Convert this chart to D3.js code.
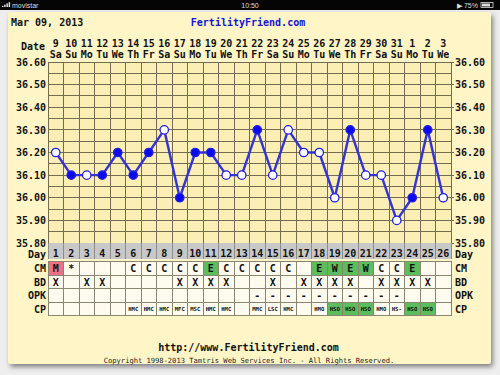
<!DOCTYPE html>
<html><head><meta charset="utf-8">
<script src="https://cdn.jsdelivr.net/npm/d3@7"></script>
<style>
html,body{margin:0;padding:0;background:#efefef;}
svg{display:block;}
</style></head>
<body>
<script>
// ---------- data ----------
const dates = [9,10,11,12,13,14,15,16,17,18,19,20,21,22,23,24,25,26,27,28,29,30,31,1,2,3];
const dows = ["Sa","Su","Mo","Tu","We","Th","Fr","Sa","Su","Mo","Tu","We","Th","Fr","Sa","Su","Mo","Tu","We","Th","Fr","Sa","Su","Mo","Tu","We"];
const cycleDays = d3.range(1,27);
const temps = [36.20,36.10,36.10,36.10,36.20,36.10,36.20,36.30,36.00,36.20,36.20,36.10,36.10,36.30,36.10,36.30,36.20,36.20,36.00,36.30,36.10,36.10,35.90,36.00,36.30,36.00];
const filled = [0,1,0,1,1,1,1,0,1,1,1,0,0,1,0,0,0,0,0,1,0,0,0,1,1,0];
const yTicks = [35.8,35.9,36.0,36.1,36.2,36.3,36.4,36.5,36.6];
const cm = ["M","*","","","","C","C","C","C","C","E","C","C","C","C","C","","E","W","E","W","C","C","E","",""];
const bd = ["X","","X","X","","","","","X","X","X","X","","","X","","X","X","X","X","","X","X","X","X",""];
const opk = ["","","","","","","","","","","","","","-","-","-","-","-","-","-","-","-","-","","",""];
const cp = ["","","","","","HMC","HMC","HMC","MFC","MSC","HMC","HMC","","MMC","LSC","HMC","","HMO","HSO","HSO","HSO","HMO","HS-","HSO","HSO",""];
const rowLabels = ["CM","BD","OPK","CP"];
const title = "Mar 09, 2013";
const site = "FertilityFriend.com";

// ---------- layout ----------
const W = 500, H = 375;
const FONT = "'DejaVu Sans Mono', 'Liberation Mono', monospace";
const PLOT = {l:48, r:451, t:62, b:243};
const svg = d3.select("body").append("svg").attr("width",W).attr("height",H);

const defs = svg.append("defs");
const f = defs.append("filter").attr("id","sh").attr("x","-5%").attr("y","-5%").attr("width","115%").attr("height","115%");
f.append("feDropShadow").attr("dx",2).attr("dy",3).attr("stdDeviation",2.5).attr("flood-color","#000").attr("flood-opacity",0.45);

// outer bg
svg.append("rect").attr("width",W).attr("height",H).attr("fill","#eeeeee");
// status bar
svg.append("rect").attr("width",W).attr("height",10).attr("fill","#050505");
const sb = svg.append("g").attr("font-family","'Liberation Sans', Arial, sans-serif").attr("font-size",7).attr("fill","#ddd");
[0,1,2,3].forEach(i=>sb.append("rect").attr("x",2+i*2.2).attr("y",7-(i+1)*1.2).attr("width",1.5).attr("height",(i+1)*1.2).attr("fill","#ddd"));
sb.append("text").attr("x",12).attr("y",7.5).text("movistar");
sb.append("text").attr("x",250).attr("y",7.5).attr("text-anchor","middle").text("10:50");
sb.append("text").attr("x",478).attr("y",7.5).attr("text-anchor","end").text("\u25B6 75%");
sb.append("rect").attr("x",481).attr("y",2.5).attr("width",12).attr("height",5).attr("fill","none").attr("stroke","#ddd").attr("stroke-width",0.8);
sb.append("rect").attr("x",482).attr("y",3.5).attr("width",8).attr("height",3).attr("fill","#ddd");

// panel
svg.append("rect").attr("x",8).attr("y",12).attr("width",483).attr("height",352).attr("rx",3)
  .attr("fill","#fff5c6").attr("filter","url(#sh)");

// scales
const x = d3.scaleBand().domain(cycleDays).range([PLOT.l,PLOT.r]);
const y = d3.scaleLinear().domain([35.8,36.6]).range([PLOT.b,PLOT.t]);
const bw = x.bandwidth();

// header text
svg.append("text").attr("x",11).attr("y",26).attr("font-family",FONT).attr("font-weight","bold").attr("font-size",10).attr("fill","#111").text(title);
svg.append("text").attr("x",248).attr("y",26).attr("text-anchor","middle").attr("font-family",FONT).attr("font-weight","bold").attr("font-size",10).attr("fill","#1414d2").text(site);

// date rows via axes
const topAxis = svg.append("g").attr("transform","translate(0,47)")
  .call(d3.axisTop(x).tickSize(0).tickPadding(0).tickFormat((d,i)=>dates[i]));
const dowAxis = svg.append("g").attr("transform","translate(0,58)")
  .call(d3.axisTop(x).tickSize(0).tickPadding(0).tickFormat((d,i)=>dows[i]));
[topAxis,dowAxis].forEach(g=>{
  g.select(".domain").remove();
  g.selectAll("text").attr("font-family",FONT).attr("font-weight","bold").attr("font-size",10).attr("fill","#111").attr("dy",0);
});
svg.append("text").attr("x",45).attr("y",50).attr("text-anchor","end").attr("font-family",FONT).attr("font-weight","bold").attr("font-size",10).attr("fill","#111").text("Date");

// plot background and grid
svg.append("rect").attr("x",PLOT.l).attr("y",PLOT.t).attr("width",PLOT.r-PLOT.l).attr("height",PLOT.b-PLOT.t).attr("fill","#fcefb5");
const grid = svg.append("g").attr("stroke","#746c52").attr("stroke-width",1).attr("shape-rendering","crispEdges");
d3.range(0,17).forEach(i=>{
  const v = 35.8 + i*0.05;
  grid.append("line").attr("x1",PLOT.l).attr("x2",PLOT.r).attr("y1",y(v)).attr("y2",y(v));
});
cycleDays.forEach(d=>grid.append("line").attr("x1",x(d)).attr("x2",x(d)).attr("y1",PLOT.t).attr("y2",PLOT.b));
grid.append("line").attr("x1",PLOT.r).attr("x2",PLOT.r).attr("y1",PLOT.t).attr("y2",PLOT.b);
yTicks.forEach(v=>grid.append("line").attr("x1",PLOT.r).attr("x2",PLOT.r+3).attr("y1",y(v)).attr("y2",y(v)));

// y axes labels
const yl = svg.append("g").attr("transform",`translate(${PLOT.l-2},0)`)
  .call(d3.axisLeft(y).tickValues(yTicks).tickSize(0).tickPadding(0).tickFormat(d3.format(".2f")));
const yr = svg.append("g").attr("transform",`translate(${PLOT.r+4},0)`)
  .call(d3.axisRight(y).tickValues(yTicks).tickSize(0).tickPadding(0).tickFormat(d3.format(".2f")));
[yl,yr].forEach(g=>{
  g.select(".domain").remove();
  g.selectAll("text").attr("font-family",FONT).attr("font-weight","bold").attr("font-size",10).attr("fill","#111");
});

// temperature line
const pts = temps.map((t,i)=>({day:cycleDays[i],t,f:filled[i]}));
svg.append("path").datum(pts)
  .attr("d",d3.line().x(d=>x(d.day)+bw/2).y(d=>y(d.t)))
  .attr("fill","none").attr("stroke","#3434d4").attr("stroke-width",2.4).attr("stroke-linejoin","round");
svg.append("g").selectAll("circle").data(pts).join("circle")
  .attr("cx",d=>x(d.day)+bw/2).attr("cy",d=>y(d.t)).attr("r",4.2)
  .attr("fill",d=>d.f?"#0a0aee":"#ffffff").attr("stroke","#2020e0").attr("stroke-width",1.3);

// table: Day row
const dayTop = PLOT.b, dayH = 16;
svg.append("rect").attr("x",PLOT.l).attr("y",dayTop).attr("width",PLOT.r-PLOT.l).attr("height",dayH).attr("fill","#c8c8c8");
const dg = svg.append("g").attr("stroke","#8c8c8c").attr("shape-rendering","crispEdges");
cycleDays.forEach(d=>dg.append("line").attr("x1",x(d)).attr("x2",x(d)).attr("y1",dayTop).attr("y2",dayTop+dayH));
dg.append("line").attr("x1",PLOT.r).attr("x2",PLOT.r).attr("y1",dayTop).attr("y2",dayTop+dayH);
const dayAxis = svg.append("g").attr("transform",`translate(0,${dayTop+14})`)
  .call(d3.axisTop(x).tickSize(0).tickPadding(0));
dayAxis.select(".domain").remove();
dayAxis.selectAll("text").attr("font-family",FONT).attr("font-weight","bold").attr("font-size",10).attr("fill","#111");
svg.append("text").attr("x",46).attr("y",dayTop+14.5).attr("text-anchor","end").attr("font-family",FONT).attr("font-weight","bold").attr("font-size",10).attr("fill","#111").text("Day");
svg.append("text").attr("x",PLOT.r+4).attr("y",dayTop+14.5).attr("font-family",FONT).attr("font-weight","bold").attr("font-size",10).attr("fill","#111").text("Day");

// table: rows
const rowTop = 261.5, rowH = 13.5;
const rows = [cm,bd,opk,cp];
rows.forEach((arr,ri)=>{
  const ty = rowTop + ri*rowH;
  const g = svg.append("g");
  g.selectAll("rect").data(cycleDays).join("rect")
    .attr("x",d=>x(d)).attr("y",ty).attr("width",bw).attr("height",rowH)
    .attr("fill",(d,i)=>{
      const v = arr[i];
      if(ri===0 && v==="M") return "#ee7088";
      if(ri===0 && (v==="E"||v==="W")) return "#5cbd5c";
      if(ri===3 && v==="HSO") return "#5cbd5c";
      return "#fffbee";
    })
    .attr("stroke","#8a8470").attr("stroke-width",1).attr("shape-rendering","crispEdges");
  g.selectAll("text").data(cycleDays).join("text")
    .attr("x",d=>x(d)+bw/2).attr("y",ty+(ri===3?9:10.5)).attr("text-anchor","middle")
    .attr("font-family",FONT).attr("font-weight","bold")
    .attr("font-size",ri===3?5.6:10).attr("fill","#111")
    .text((d,i)=>arr[i]);
  svg.append("text").attr("x",46).attr("y",ty+10.5).attr("text-anchor","end").attr("font-family",FONT).attr("font-weight","bold").attr("font-size",10).attr("fill","#111").text(rowLabels[ri]);
  svg.append("text").attr("x",PLOT.r+4).attr("y",ty+10.5).attr("font-family",FONT).attr("font-weight","bold").attr("font-size",10).attr("fill","#111").text(rowLabels[ri]);
});

// footer
svg.append("text").attr("x",248.5).attr("y",350.5).attr("text-anchor","middle").attr("font-family",FONT).attr("font-weight","bold").attr("font-size",10).attr("fill","#111").text("http://www.FertilityFriend.com");
svg.append("text").attr("x",249).attr("y",362.5).attr("text-anchor","middle").attr("font-family",FONT).attr("font-size",7.1).attr("fill","#222").text("Copyright 1998-2013 Tamtris Web Services Inc. - All Rights Reserved.");
</script>
</body></html>
